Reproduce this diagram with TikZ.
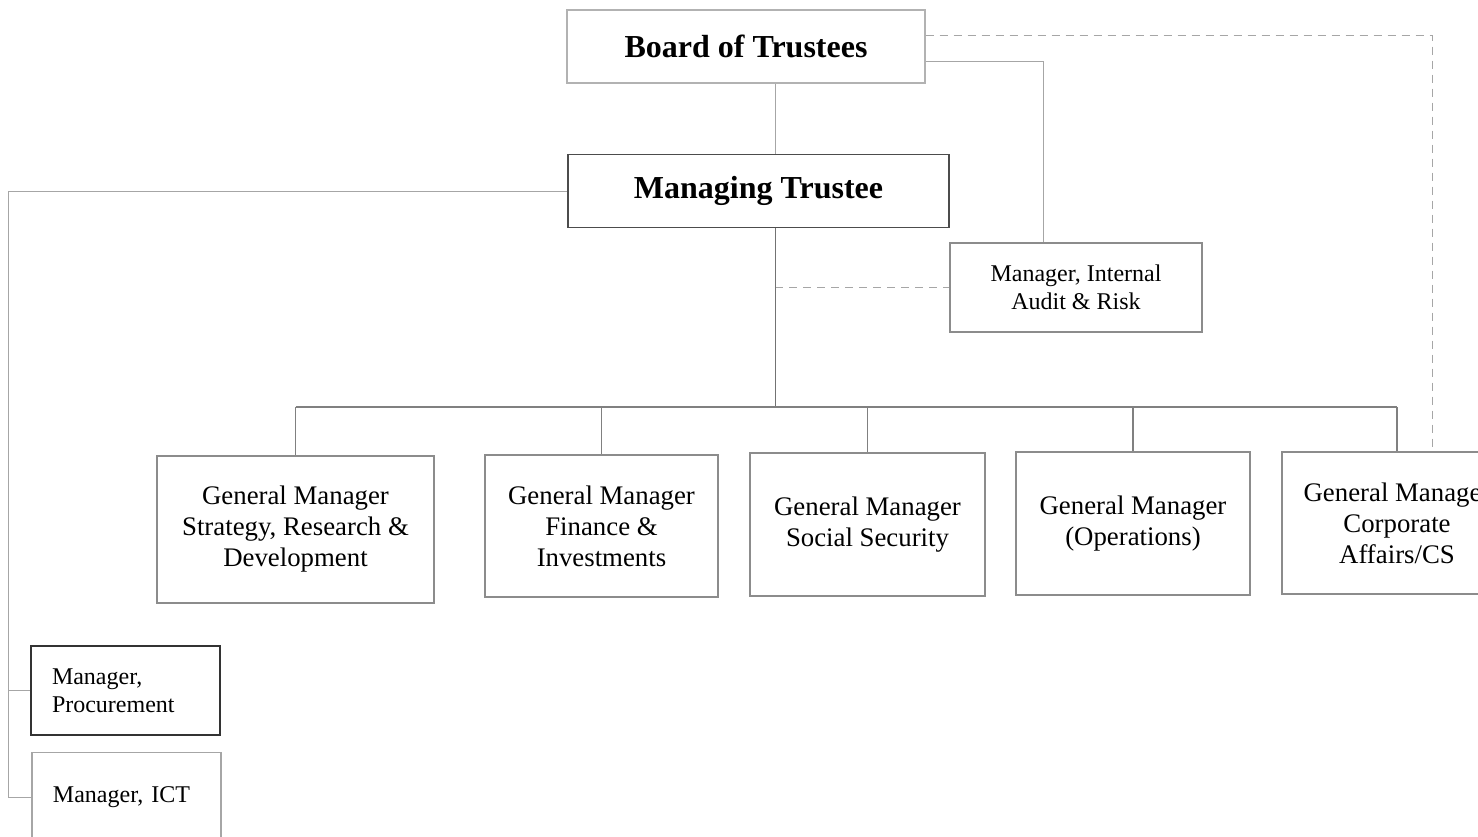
\documentclass[tikz,border=0pt]{standalone}
\usepackage{fontspec}
\setmainfont{Liberation Serif}
\usepackage{tikz}

\tikzset{
    post/.style={draw=black!45, line width=0.6pt, align=center, inner sep=2pt,
        font=\fontsize{13.4}{15.5}\selectfont},
    head/.style={post, font=\fontsize{16}{19}\selectfont\bfseries},
    small/.style={post, font=\fontsize{12}{14}\selectfont},
    link/.style={draw=black!35, line width=0.4pt},
    dotted link/.style={link, dashed, dash pattern=on 4pt off 3pt}
}

\begin{document}
\begin{tikzpicture}[x=0.5pt, y=-0.5pt]
            \useasboundingbox (0,0) rectangle (1478,836);

            \node[head, draw=black!30, minimum width=179pt, minimum height=36.5pt] (board) at (746,46.5) {Board of Trustees};
            \node[head, draw=black!70, line width=0.9pt, minimum width=190.5pt, minimum height=36.5pt] (mt) at (758.5,191) {Managing Trustee};
            \node[small, minimum width=126pt, minimum height=44.5pt] (audit) at (1076,287.5) {Manager, Internal\\Audit \& Risk};

            \node[post, minimum width=138.5pt, minimum height=73.5pt] (gmsrd) at (295.5,529.5) {General Manager\\Strategy, Research \&\\Development};
            \node[post, minimum width=116.5pt, minimum height=71pt] (gmfin) at (601.5,526) {General Manager\\Finance \&\\Investments};
            \node[post, minimum width=117.5pt, minimum height=71.5pt] (gmss) at (867.5,524.5) {General Manager\\Social Security};
            \node[post, minimum width=117pt, minimum height=71.5pt] (gmops) at (1133,523.5) {General Manager\\(Operations)};
            \node[post, minimum width=115pt, minimum height=71pt] (gmcorp) at (1397,523) {General Manager\\Corporate\\Affairs/CS};

            \node[small, draw=black!80, line width=0.8pt, align=left, text width=73.5pt, inner sep=10.5pt, minimum height=44.5pt] (proc) at (125.5,690.5) {Manager,\\Procurement};
            \node[small, draw=black!35, align=left, text width=73.5pt, inner sep=10.5pt, minimum height=44.5pt] (ict) at (126.5,797) {Manager, ICT};

            \coordinate (spine) at (775,407);
            \coordinate (tap) at (1043,61);
            \coordinate (corner) at (1432,35);
            \coordinate (lft) at (8,191);

            \draw[link] (board.south -| spine) -- (mt.north -| spine);
            \draw[link] (board.east |- tap) -| (audit.north -| tap);
            \draw[dotted link] (board.east |- corner) -- (corner) -- (gmcorp.north -| corner);
            \draw[dotted link] (audit.west -| spine) -- (audit.west);
            \draw[link, draw=black!55] (mt.south -| spine) -- (spine);
            \draw[link, draw=black!50, line width=0.9pt] (gmsrd.north |- spine) -- (gmcorp.north |- spine);
            \foreach \n in {gmsrd, gmfin, gmss, gmops, gmcorp}
                \draw[link, draw=black!50, line width=0.8pt] (\n.north |- spine) -- (\n.north);

            \draw[link] (mt.west) -- (mt.west -| lft) -- (lft |- ict.west) -- (ict.west);
            \draw[link] (lft |- proc.west) -- (proc.west);
        \end{tikzpicture}
\end{document}
